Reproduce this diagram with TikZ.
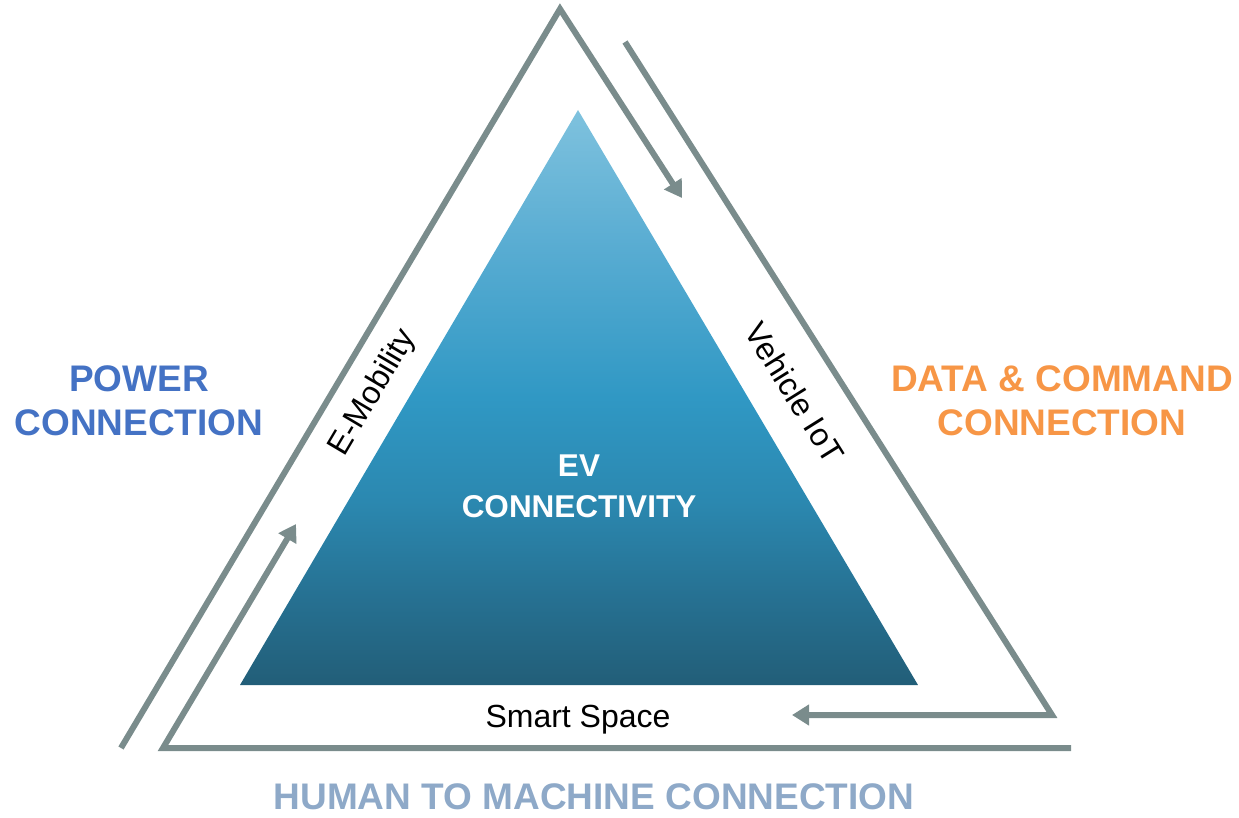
\documentclass[tikz,border=0pt]{standalone}
\usepackage{fontspec}
\setmainfont{Liberation Sans}
\usetikzlibrary{arrows.meta}
\definecolor{linegray}{RGB}{122,140,140}
\definecolor{powerblue}{RGB}{68,114,196}
\definecolor{dataorange}{RGB}{247,150,70}
\definecolor{humanblue}{RGB}{142,169,200}
\definecolor{tritop}{RGB}{127,194,222}
\definecolor{trihi}{RGB}{88,172,210}
\definecolor{trimid}{RGB}{48,152,196}
\definecolor{trilow}{RGB}{43,136,176}
\definecolor{trideep}{RGB}{38,112,145}
\definecolor{tribot}{RGB}{34,94,120}
\pgfdeclareverticalshading{evshade}{100bp}{color(0bp)=(tribot); color(25bp)=(tribot); color(32.4bp)=(trideep); color(41bp)=(trilow); color(50bp)=(trimid); color(63bp)=(trihi); color(75bp)=(tritop); color(100bp)=(tritop)}
\begin{document}
\begin{tikzpicture}[x=1pt,y=-1pt,
  flow/.style={draw=linegray,line width=6pt,line join=miter,-{Triangle[length=17pt,width=20pt]}},
  biglabel/.style={font=\fontsize{37}{44}\selectfont\bfseries,align=center,inner sep=0pt},
  sidelabel/.style={font=\fontsize{32}{36}\selectfont,text=black,inner sep=0pt},
  corelabel/.style={font=\fontsize{31.5}{41}\selectfont\bfseries,align=center,text=white,inner sep=0pt}]
\useasboundingbox (0,0) rectangle (1239,818);
% inner triangle
\shade[shading=evshade]
  (578,110) -- (918,685) -- (240,685) -- cycle;
% chevron arrows
\coordinate (A1) at (121,748);
\coordinate (A2) at (560,9);
\coordinate (A3) at (682,198);
\coordinate (B1) at (625,42);
\coordinate (B2) at (1052,715);
\coordinate (B3) at (792,715);
\coordinate (C1) at (1071,748);
\coordinate (C2) at (163,748);
\coordinate (C3) at (296,524);
\draw[flow] (A1) -- (A2) -- (A3);
\draw[flow] (B1) -- (B2) -- (B3);
\draw[flow] (C1) -- (C2) -- (C3);
% labels
\node[biglabel,text=powerblue] (power) at (139,401) {POWER\\CONNECTION};
\node[biglabel,text=dataorange] (data) at (1062,401) {DATA \& COMMAND\\CONNECTION};
\node[biglabel,text=humanblue] (human) at (594,797) {HUMAN TO MACHINE CONNECTION};
\node[corelabel] (core) at (579,486) {EV\\CONNECTIVITY};
\node[sidelabel,rotate=59.3] (emob) at (373,393) {E-Mobility};
\node[sidelabel,rotate=-58] (viot) at (795,393) {Vehicle IoT};
\node[sidelabel,anchor=base] (smart) at (578,727) {Smart Space};
\end{tikzpicture}
\end{document}
